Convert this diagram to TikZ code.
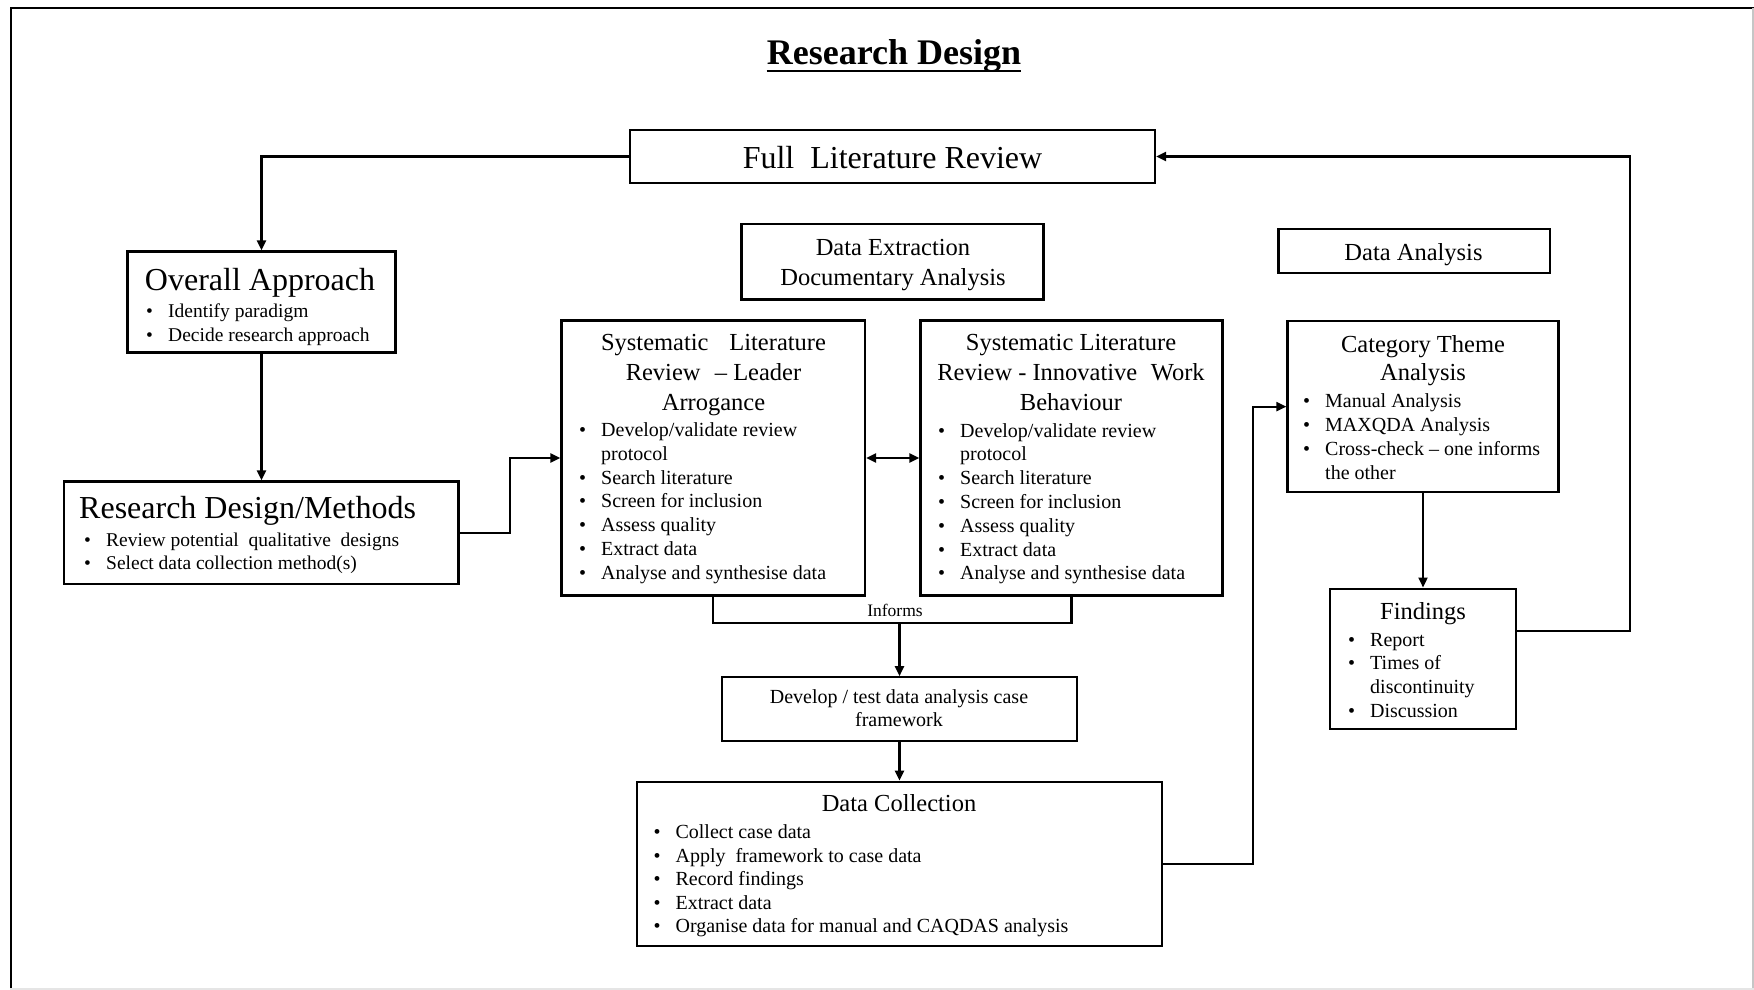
\documentclass[tikz,border=0pt]{standalone}
\usepackage{fontspec}
\setmainfont{Liberation Serif}
\usetikzlibrary{arrows.meta,calc}

% bullet lists: a bullet in a fixed-width slot, then the item text
\newlength{\bind}
\setlength{\bind}{22pt}
\newcommand{\bitem}[1]{\makebox[\bind][l]{\textbullet}#1\par}
\newcommand{\bcont}[1]{\hspace*{\bind}#1\par}
\newcommand{\clines}[1]{\parbox[t]{420pt}{\centering #1}}
\newcommand{\llines}[1]{\parbox[t]{420pt}{#1}}

\begin{document}
\begin{tikzpicture}[x=1pt,y=-1pt,
  every node/.style={inner sep=0pt},
  box/.style={draw, line width=2.2pt, rectangle},
  conn/.style={line width=2.2pt},
  arr/.style={conn, -{Triangle[length=10pt,width=9pt]}},
  dbl/.style={conn, {Triangle[length=10pt,width=9pt]}-{Triangle[length=10pt,width=9pt]}},
  bighd/.style={anchor=base, font=\fontsize{32}{38}\selectfont},
  hd/.style={anchor=base, font=\fontsize{24.5}{30}\selectfont},
  sm/.style={anchor=base, font=\fontsize{20}{23.4}\selectfont},
  blist/.style={anchor=base west, font=\fontsize{20}{23.8}\selectfont},
  blistb/.style={anchor=base west, font=\fontsize{19.5}{23.8}\selectfont},
]
\useasboundingbox (0,0) rectangle (1754,990);
\fill[white] (0,0) rectangle (1754,990);

% page frame
\draw[line width=2pt] (10.5,990) -- (10.5,8.5) -- (1754,8.5);
\draw[gray!45, line width=1.5pt] (1753,8) -- (1753,990);
\draw[gray!20, line width=2pt] (10,989) -- (1754,989);

% title
\node[anchor=base, font=\fontsize{36}{40}\selectfont\bfseries] (title) at (894,64.5) {Research Design};
\draw[line width=2.8pt] ([yshift=-6.5pt]title.base west) -- ([yshift=-6.5pt]title.base east);

% boxes
\node[box, minimum width=525pt, minimum height=53pt] (flr) at (892.5,156.5) {};
\node[box, minimum width=268pt, minimum height=101pt] (oa) at (261.5,302) {};
\node[box, minimum width=394.5pt, minimum height=102.5pt] (rdm) at (261.25,532.75) {};
\node[box, minimum width=302pt, minimum height=75.5pt] (de) at (892.5,261.75) {};
\node[box, minimum width=271.5pt, minimum height=44pt] (da) at (1414.25,251.25) {};
\node[box, minimum width=303.5pt, minimum height=275pt] (slr1) at (713.25,458) {};
\node[box, minimum width=302pt, minimum height=275pt] (slr2) at (1071.5,458) {};
\node[box, minimum width=355pt, minimum height=63.4pt] (dev) at (899.5,709) {};
\node[box, minimum width=525pt, minimum height=164.3pt] (dc) at (899.5,863.85) {};
\node[box, minimum width=271pt, minimum height=171.3pt] (cta) at (1423,406.65) {};
\node[box, minimum width=186pt, minimum height=140.4pt] (fin) at (1423,658.8) {};

% texts
\node[bighd] (flrt) at (892.5,168) {Full\ \ Literature Review};

\node[bighd] (oat) at (260,290) {Overall Approach};
\node[blistb] (oal) at (146,317.3) {\llines{%
  \bitem{Identify paradigm}
  \bitem{Decide research approach}}};

\node[bighd, anchor=base west] (rdmt) at (79,518.3) {Research Design/Methods};
\node[blistb] (rdml) at (84,546) {\llines{%
  \bitem{Review potential\ \ qualitative\ \ designs}
  \bitem{Select data collection method(s)}}};

\node[hd] (det) at (893,255) {\clines{Data Extraction\par Documentary Analysis}};
\node[hd] (dat) at (1413.5,260.7) {Data Analysis};

\node[hd] (slr1t) at (713.5,350) {\clines{Systematic\hspace{0.6em} Literature\par Review \,\,– Leader\par Arrogance}};
\node[blist] (slr1l) at (579,436.5) {\llines{%
  \bitem{Develop/validate review}
  \bcont{protocol}
  \bitem{Search literature}
  \bitem{Screen for inclusion}
  \bitem{Assess quality}
  \bitem{Extract data}
  \bitem{Analyse and synthesise data}}};

\node[hd] (slr2t) at (1071,350) {\clines{Systematic Literature\par Review - Innovative\hspace{0.3em} Work\par Behaviour}};
\node[blist] (slr2l) at (938,437) {\llines{%
  \bitem{Develop/validate review}
  \bcont{protocol}
  \bitem{Search literature}
  \bitem{Screen for inclusion}
  \bitem{Assess quality}
  \bitem{Extract data}
  \bitem{Analyse and synthesise data}}};

\node[anchor=base, font=\fontsize{17.5}{20}\selectfont] (inft) at (895,616.7) {Informs};

\node[sm] (devt) at (899,703.3) {\clines{Develop / test data analysis case\par framework}};

\node[hd] (dct) at (899,811.7) {Data Collection};
\node[blist] (dcl) at (653.4,838.5) {\llines{\baselineskip=23.5pt
  \bitem{Collect case data}
  \bitem{Apply\ \ framework to case data}
  \bitem{Record findings}
  \bitem{Extract data}
  \bitem{Organise data for manual and CAQDAS analysis}}};

\node[anchor=base, font=\fontsize{24.5}{28.7}\selectfont] (ctat) at (1423,352) {\clines{Category Theme\par Analysis}};
\node[blist] (ctal) at (1303,407.8) {\llines{%
  \bitem{Manual Analysis}
  \bitem{MAXQDA Analysis}
  \bitem{Cross-check – one informs}
  \bcont{the other}}};

\node[hd] (fint) at (1423,619) {Findings};
\node[blist] (finl) at (1348,646.1) {\llines{%
  \bitem{Report}
  \bitem{Times of}
  \bcont{discontinuity}
  \bitem{Discussion}}};

% connectors
\coordinate (inf) at (899.5,623.3);
\coordinate (dcturn) at (1253,640);
\coordinate (fbk) at (1630,631);

\draw[arr] (flr.west) -| (oa.north);
\draw[arr] (oa.south) -- (oa.south |- rdm.north);
\draw[arr] (rdm.east) -| ($(rdm.east)!.5!(slr1.west)$) |- (slr1.west);
\draw[dbl] (slr1.east) -- (slr2.west);
\draw[conn] (slr1.south) |- (inf) -| (slr2.south);
\draw[arr] (inf) -- (dev.north);
\draw[arr] (dev.south) -- (dc.north);
\draw[arr] (dc.east) -| (dcturn) |- (cta.west);
\draw[arr] (cta.south) -- (fin.north);
\draw[arr] (fin.east |- fbk) -- (fbk) |- (flr.east);
\end{tikzpicture}
\end{document}
